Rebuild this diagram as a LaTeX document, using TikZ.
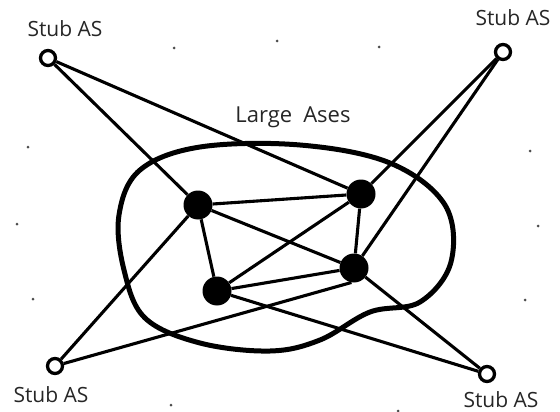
\documentclass[tikz,border=0pt]{standalone}
\usepackage{fontspec}
\setmainfont{Open Sans}
\usepackage{tikz}

\tikzset{
  stub/.style={circle,draw,line width=3.3pt,fill=white,minimum size=15pt,inner sep=0pt},
  large/.style={circle,fill=black,minimum size=29pt,inner sep=0pt},
  link/.style={line width=3.1pt},
  stublbl/.style={font=\fontsize{21}{24}\selectfont,text=black!85,inner sep=0pt}
}

\begin{document}
\begin{tikzpicture}[x=1pt,y=-1pt]
  \useasboundingbox (0,0) rectangle (560,412);
  % scattered background dots
  \foreach \p in {(174,48),(277,41),(379,47),(28,147),(530,151),(17,224),(538,226),(33,299),(525,300),(171,405),(398,411)}
    \fill[black!70] \p circle (1.5pt);
  % region of the large ASes
  \draw[line width=5pt] plot[smooth cycle,tension=0.6] coordinates {(119,215) (140,170) (200,147) (300,145) (390,163) (445,205) (451,262) (420,302) (370,312) (320,340) (270,351) (200,343) (145,318) (124,270)};
  \node[stublbl,font=\fontsize{22}{26}\selectfont,anchor=base] (lbl) at (293,122) {Large\hspace{0.5em}Ases};
  % nodes
  \node[large] (a) at (198,205) {};
  \node[large] (b) at (361,194) {};
  \node[large] (c) at (217,291) {};
  \node[large] (d) at (354,268) {};
  \node[stub] (tl) at (48,58) {};
  \node[stub] (tr) at (503,52) {};
  \node[stub] (bl) at (55,366) {};
  \node[stub] (br) at (487,374) {};
  \node[stublbl] (tl-l) at (65,29) {Stub AS};
  \node[stublbl] (tr-l) at (513,18) {Stub AS};
  \node[stublbl] (bl-l) at (51,395) {Stub AS};
  \node[stublbl] (br-l) at (501,400) {Stub AS};
  % links
  \draw[link] (tl) -- (a);
  \draw[link] (tl) -- (b);
  \draw[link] (tr) -- (b);
  \draw[link] (tr) -- (d);
  \draw[link] (bl) -- (a);
  \draw[link] (bl) -- (d.260);
  \draw[link] (br) -- (c);
  \draw[link] (br) -- (d);
  \draw[link] (a) -- (b);
  \draw[link] (a) -- (c);
  \draw[link] (a) -- (d);
  \draw[link] (b) -- (c);
  \draw[link] (b) -- (d);
  \draw[link] (c) -- (d);
\end{tikzpicture}
\end{document}
